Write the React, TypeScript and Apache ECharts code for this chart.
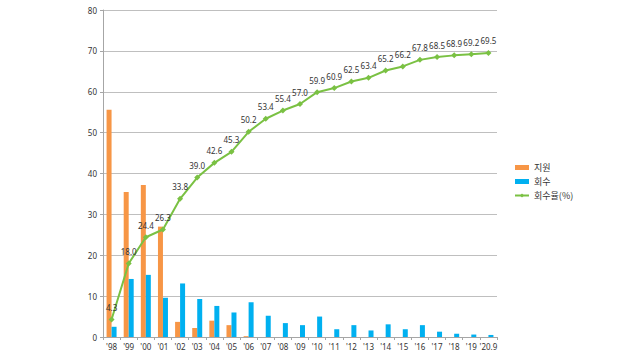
import React, { useEffect, useRef } from "react";
import * as echarts from "echarts";

const categories = ["'98", "'99", "'00", "'01", "'02", "'03", "'04", "'05", "'06", "'07", "'08", "'09", "'10", "'11", "'12", "'13", "'14", "'15", "'16", "'17", "'18", "'19", "'20.9"];
const support = [55.6, 35.5, 37.2, 27.0, 3.7, 2.2, 4.0, 2.9, 0.2, 0, 0, 0, 0, 0, 0, 0, 0, 0, 0, 0, 0, 0, 0];
const recovery = [2.5, 14.2, 15.2, 9.6, 13.1, 9.3, 7.6, 6.0, 8.5, 5.2, 3.4, 2.9, 5.0, 1.9, 2.9, 1.6, 3.1, 1.9, 2.9, 1.3, 0.8, 0.6, 0.5];
const recoveryRate = [4.3, 18.0, 24.4, 26.3, 33.8, 39.0, 42.6, 45.3, 50.2, 53.4, 55.4, 57.0, 59.9, 60.9, 62.5, 63.4, 65.2, 66.2, 67.8, 68.5, 68.9, 69.2, 69.5];
const yTicks = [0, 10, 20, 30, 40, 50, 60, 70, 80];

export default function App() {
  const ref = useRef<HTMLDivElement>(null);
  useEffect(() => {
    if (!ref.current) return;
    const chart = echarts.init(ref.current, null, { renderer: "svg" });
    chart.setOption({
      animation: false,
      backgroundColor: "#ffffff",
      textStyle: { fontFamily: "Noto Sans" },
      grid: { left: 103, right: 143, top: 10, bottom: 23, containLabel: false },
      legend: {
        orient: "vertical",
        left: 509,
        top: 158,
        itemGap: 5,
        itemWidth: 14,
        itemHeight: 5,
        textStyle: { fontFamily: "Noto Sans CJK KR", fontSize: 9, color: "#333" },
        data: [
          { name: "지원", icon: "rect" },
          { name: "회수", icon: "rect" },
          { name: "회수율(%)" },
        ],
      },
      xAxis: {
        type: "category",
        data: categories,
        axisLine: { lineStyle: { color: "#a6a6a6" } },
        axisTick: { show: true, length: 3, lineStyle: { color: "#a6a6a6" } },
        axisLabel: { fontSize: 8, color: "#333", margin: 5, interval: 0 },
      },
      yAxis: {
        type: "value",
        min: yTicks[0],
        max: yTicks[yTicks.length - 1],
        interval: 10,
        axisLine: { show: true, lineStyle: { color: "#a6a6a6" } },
        axisTick: { show: true, length: 3, lineStyle: { color: "#a6a6a6" } },
        axisLabel: { fontSize: 8, color: "#333", margin: 6 },
        splitLine: { lineStyle: { color: "#bfbfbf" } },
      },
      series: [
        {
          name: "지원",
          type: "bar",
          data: support,
          barWidth: 5,
          barGap: "0%",
          itemStyle: { color: "#f79646" },
        },
        {
          name: "회수",
          type: "bar",
          data: recovery,
          barWidth: 5,
          barGap: "0%",
          itemStyle: { color: "#00b0f0" },
        },
        {
          name: "회수율(%)",
          type: "line",
          data: recoveryRate,
          symbol: "diamond",
          symbolSize: 6,
          lineStyle: { color: "#7ac143", width: 2 },
          itemStyle: { color: "#7ac143" },
          label: {
            show: true,
            position: "top",
            distance: 5,
            fontSize: 8,
            color: "#333",
            formatter: (p: any) => p.value.toFixed(1),
          },
        },
      ],
    });
    return () => chart.dispose();
  }, []);
  return <div ref={ref} style={{ width: 640, height: 360, position: "absolute", left: 0, top: 0 }} />;
}
